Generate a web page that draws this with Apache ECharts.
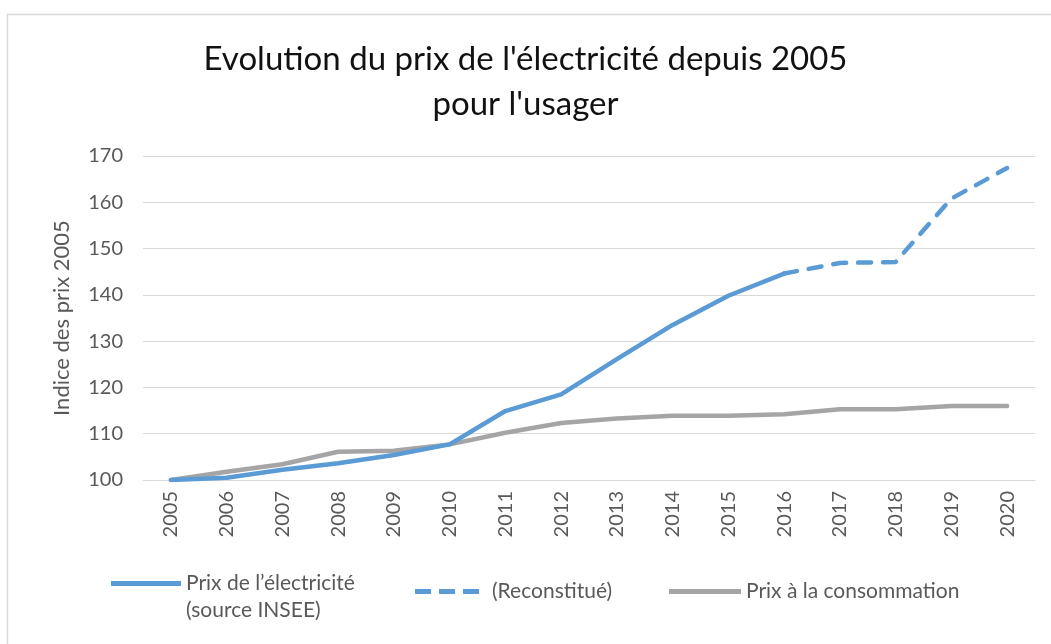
<!DOCTYPE html>
<html>
<head>
<meta charset="utf-8">
<script src="https://cdn.jsdelivr.net/npm/echarts@6/dist/echarts.min.js"></script>
<style>
  html, body { margin: 0; padding: 0; background: #fff; }
  #chart { width: 1051px; height: 644px; }
</style>
</head>
<body>
<div id="chart"></div>
<script>
var years = ['2005', '2006', '2007', '2008', '2009', '2010', '2011', '2012',
  '2013', '2014', '2015', '2016', '2017', '2018', '2019', '2020'];
var prixElec = [100, 100.5, 102.2, 103.6, 105.4, 107.7, 114.9, 118.5,
  126.1, 133.5, 139.8, 144.6, null, null, null, null];
var prixReconstitue = [null, null, null, null, null, null, null, null,
  null, null, null, 144.6, 146.9, 147.1, 160.8, 167.4];
var prixConso = [100, 101.8, 103.4, 106.1, 106.3, 107.7, 110.2, 112.3,
  113.3, 113.9, 113.9, 114.2, 115.3, 115.3, 116.0, 116.0];
var yTicks = [100, 110, 120, 130, 140, 150, 160, 170];

var FONT = 'Lato';
var GREY_TEXT = '#595959';
var BLUE = '#5B9BD5';
var GREY = '#A5A5A5';

var chart = echarts.init(document.getElementById('chart'));

chart.setOption({
  animation: false,
  textStyle: { fontFamily: FONT },
  graphic: [{
    type: 'rect',
    left: 5, top: 12,
    shape: { width: 1060, height: 650 },
    style: { fill: 'none', stroke: '#D9D9D9', lineWidth: 1.5 },
    silent: true
  }],
  title: {
    text: "Evolution du prix de l'électricité depuis 2005\npour l'usager",
    left: 'center',
    top: 32,
    textStyle: { fontFamily: FONT, fontSize: 33, fontWeight: 'normal', color: '#111', lineHeight: 45 }
  },
  grid: { left: 143, right: 16, top: 156, bottom: 164 },
  xAxis: {
    type: 'category',
    data: years,
    boundaryGap: true,
    axisLine: { lineStyle: { color: '#D9D9D9' } },
    axisTick: { show: false },
    axisLabel: { rotate: 90, color: GREY_TEXT, fontSize: 20, margin: 11, fontFamily: FONT }
  },
  yAxis: {
    type: 'value',
    min: yTicks[0],
    max: yTicks[yTicks.length - 1],
    interval: 10,
    name: 'Indice des prix 2005',
    nameLocation: 'middle',
    nameGap: 70,
    nameTextStyle: { color: GREY_TEXT, fontSize: 22, fontFamily: FONT },
    axisLine: { show: false },
    axisTick: { show: false },
    axisLabel: { color: GREY_TEXT, fontSize: 20, margin: 20, fontFamily: FONT },
    splitLine: { lineStyle: { color: '#D9D9D9', width: 1 } }
  },
  legend: [{
    left: 106, top: 565,
    data: ["Prix de l’électricité\n(source INSEE)"],
    itemWidth: 70, itemHeight: 54,
    icon: 'path://M0,0 M0,54 M0,11 L70,11 L70,16 L0,16 Z',
    textStyle: { color: GREY_TEXT, fontSize: 21, lineHeight: 27, fontFamily: FONT },
    selectedMode: false
  }, {
    left: 410, top: 576,
    data: ['(Reconstitué)'],
    itemWidth: 64, itemHeight: 5,
    icon: 'path://M0,0 L16,0 L16,5 L0,5 Z M24,0 L40,0 L40,5 L24,5 Z M48,0 L64,0 L64,5 L48,5 Z',
    textStyle: { color: GREY_TEXT, fontSize: 21, fontFamily: FONT, padding: [0, 0, 0, 8] },
    selectedMode: false
  }, {
    left: 664, top: 576,
    data: ['Prix à la consommation'],
    itemWidth: 72, itemHeight: 5,
    icon: 'path://M0,0 L72,0 L72,5 L0,5 Z',
    textStyle: { color: GREY_TEXT, fontSize: 21, fontFamily: FONT },
    selectedMode: false
  }],
  series: [{
    name: 'Prix à la consommation',
    type: 'line',
    data: prixConso,
    showSymbol: false,
    symbol: 'none',
    color: GREY,
    lineStyle: { color: GREY, width: 4.5, cap: 'round', join: 'round' }
  }, {
    name: "Prix de l’électricité\n(source INSEE)",
    type: 'line',
    data: prixElec,
    showSymbol: false,
    symbol: 'none',
    color: BLUE,
    lineStyle: { color: BLUE, width: 4.5, cap: 'round', join: 'round' }
  }, {
    name: '(Reconstitué)',
    type: 'line',
    data: prixReconstitue,
    showSymbol: false,
    symbol: 'none',
    color: BLUE,
    lineStyle: { color: BLUE, width: 4.5, type: [13, 12], cap: 'round', join: 'round' }
  }]
});
</script>
</body>
</html>
